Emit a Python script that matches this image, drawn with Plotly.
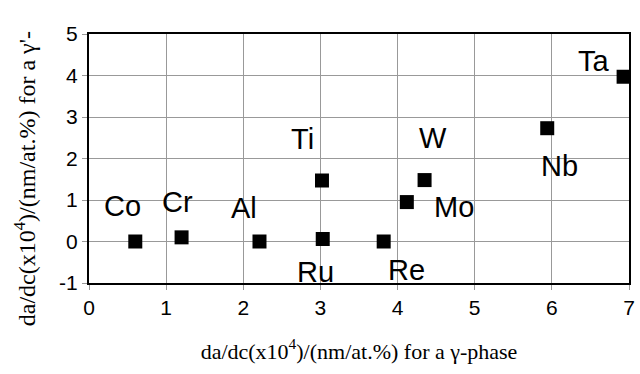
import plotly.graph_objects as go

elements = ["Co", "Cr", "Al", "Ti", "Ru", "Re", "Mo", "W", "Nb", "Ta"]
gamma_x = [0.60, 1.20, 2.21, 3.02, 3.03, 3.82, 4.12, 4.35, 5.94, 6.93]
gamma_prime_y = [0.0, 0.10, 0.0, 1.47, 0.06, 0.0, 0.95, 1.48, 2.73, 3.97]

x_ticks = [0, 1, 2, 3, 4, 5, 6, 7]
y_ticks = [-1, 0, 1, 2, 3, 4, 5]
y_tick_text = ["-1", "0", "1", "2", "3", "4", "5"]

# label offsets in pixels (dx, dy with dy downward)
label_offsets = [(-13, -36), (-4, -35), (-15, -34), (-19, -42), (-7, 33),
                 (23, 28), (47, 5), (8, -42), (12, 38), (-30, -16)]

fig = go.Figure()
fig.add_trace(go.Scatter(
    x=gamma_x, y=gamma_prime_y, mode="markers",
    marker=dict(symbol="square", size=14, color="black"),
    showlegend=False, cliponaxis=False,
))

for name, xv, yv, (dx, dy) in zip(elements, gamma_x, gamma_prime_y, label_offsets):
    fig.add_annotation(x=xv, y=yv, text=name, showarrow=False,
                       xshift=dx, yshift=-dy,
                       font=dict(family="Liberation Sans, Arial", size=29, color="black"))

fig.add_annotation(
    xref="paper", yref="paper", x=-0.117, y=0.42, xanchor="center", yanchor="middle",
    text="da/dc(x10<sup>4</sup>)/(nm/at.%) for a γ'-", textangle=-90, showarrow=False,
    font=dict(family="Liberation Serif, Times New Roman", size=24, color="black"))

fig.update_layout(
    width=640, height=374,
    margin=dict(l=89, r=5, t=34, b=91),
    paper_bgcolor="white", plot_bgcolor="white",
    xaxis=dict(
        range=[0, 7], tickvals=x_ticks, ticks="outside", ticklen=5, tickcolor="#999",
        showgrid=True, gridcolor="#999", gridwidth=1, zeroline=False,
        showline=True, linecolor="black", linewidth=2, mirror=True,
        tickfont=dict(family="Liberation Sans, Arial", size=21, color="black"),
        title=dict(text="da/dc(x10<sup>4</sup>)/(nm/at.%) for a γ-phase",
                   font=dict(family="Liberation Serif, Times New Roman", size=22, color="black"),
                   standoff=25),
    ),
    yaxis=dict(
        range=[-1, 5], tickvals=y_ticks, ticktext=y_tick_text, ticks="outside", ticklen=5,
        tickcolor="#999",
        showgrid=True, gridcolor="#999", gridwidth=1, zeroline=False,
        showline=True, linecolor="black", linewidth=2, mirror=True,
        tickfont=dict(family="Liberation Sans, Arial", size=21, color="black"),
    ),
)

fig.write_html("out.html")
